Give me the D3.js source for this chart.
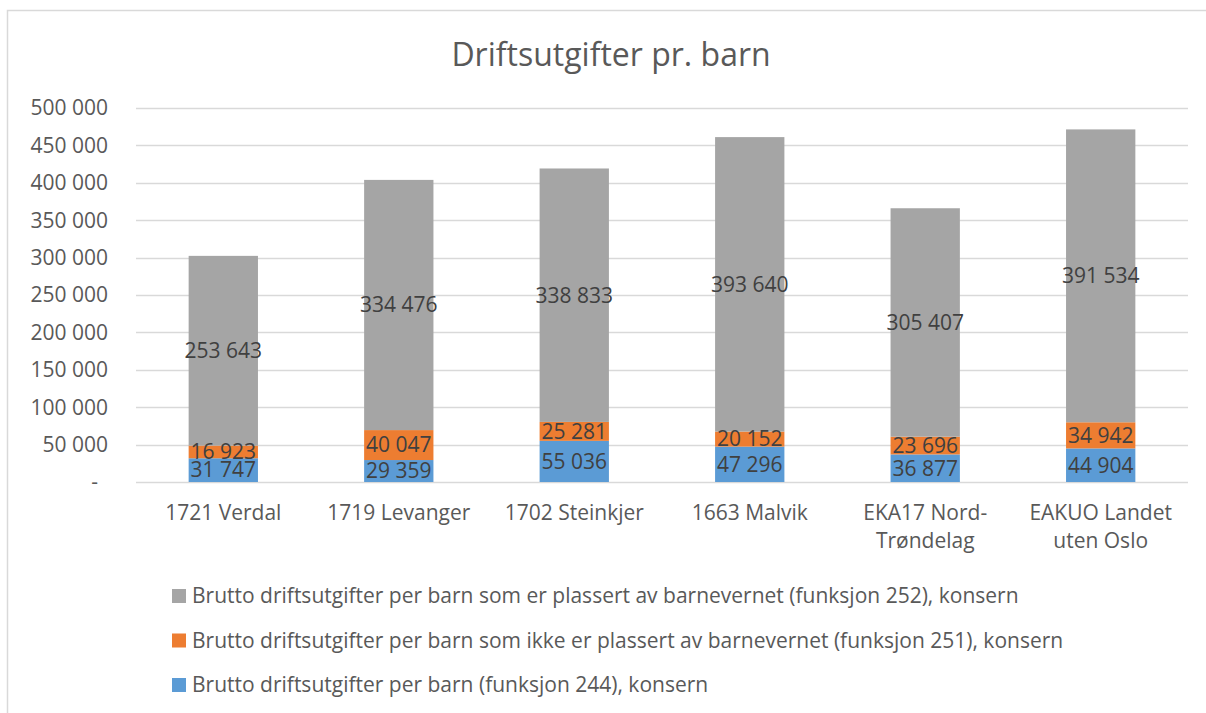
<html>
<head>
    <meta charset="utf-8">
    <script src="https://cdn.jsdelivr.net/npm/d3@7"></script>
    <style>
        body { margin: 0; background: white; font-family: "Open Sans", sans-serif; }
        svg { display: block; }
    </style>
</head>
<body>
<svg id="chart"></svg>
<script>
    // chart values
    const categories = ["1721 Verdal", "1719 Levanger", "1702 Steinkjer", "1663 Malvik", "EKA17 Nord-\nTrøndelag", "EAKUO Landet\nuten Oslo"];
    const seriesNames = [
        "Brutto driftsutgifter per barn (funksjon 244), konsern",
        "Brutto driftsutgifter per barn som ikke er plassert av barnevernet (funksjon 251), konsern",
        "Brutto driftsutgifter per barn som er plassert av barnevernet (funksjon 252), konsern"
    ];
    const f244 = [31747, 29359, 55036, 47296, 36877, 44904];
    const f251 = [16923, 40047, 25281, 20152, 23696, 34942];
    const f252 = [253643, 334476, 338833, 393640, 305407, 391534];
    const yTicks = [0, 50000, 100000, 150000, 200000, 250000, 300000, 350000, 400000, 450000, 500000];
    const colors = ["#5B9BD5", "#ED7D31", "#A5A5A5"];

    const width = 1206, height = 713;
    const margin = {left: 136, right: 18, top: 108, bottom: 231};
    const svg = d3.select("#chart").attr("width", width).attr("height", height);

    // outer chart border (continues past the picture edge)
    svg.append("rect")
        .attr("x", 7.5).attr("y", 10.5)
        .attr("width", 1220).attr("height", 720)
        .attr("fill", "white").attr("stroke", "#d9d9d9").attr("stroke-width", 1.5);

    svg.append("text")
        .attr("x", 611).attr("y", 66)
        .attr("text-anchor", "middle")
        .attr("font-size", 32)
        .attr("fill", "#595959")
        .text("Driftsutgifter pr. barn");

    let x = d3.scaleBand()
        .domain(categories)
        .range([margin.left, width - margin.right])
        .paddingInner(0.605).paddingOuter(0.3);
    let y = d3.scaleLinear()
        .domain([0, 500000])
        .range([height - margin.bottom, margin.top]);

    let fmt = v => v === 0 ? "-" : d3.format(",")(v).replace(/,/g, " ");

    // gridlines
    svg.append("g").selectAll("line").data(yTicks).enter().append("line")
        .attr("x1", margin.left).attr("x2", width - margin.right)
        .attr("y1", d => Math.round(y(d)) + 0.5).attr("y2", d => Math.round(y(d)) + 0.5)
        .attr("stroke", "#d9d9d9").attr("stroke-width", 1.5);

    // y labels
    svg.append("g").selectAll("text").data(yTicks).enter().append("text")
        .attr("x", d => d === 0 ? 98 : 108)
        .attr("y", d => y(d))
        .attr("dy", "0.35em")
        .attr("text-anchor", "end")
        .attr("font-size", 21)
        .attr("fill", "#595959")
        .text(fmt);

    // stack
    let rows = categories.map((c, i) => ({cat: c, s0: f244[i], s1: f251[i], s2: f252[i]}));
    let stacked = d3.stack().keys(["s0", "s1", "s2"])(rows);

    let layers = svg.append("g").selectAll("g").data(stacked).enter().append("g")
        .attr("fill", (d, i) => colors[i]);
    layers.selectAll("rect").data(d => d).enter().append("rect")
        .attr("x", d => x(d.data.cat))
        .attr("width", x.bandwidth())
        .attr("y", d => y(d[1]))
        .attr("height", d => y(d[0]) - y(d[1]));

    // data labels
    let labels = svg.append("g");
    stacked.forEach(layer => {
        layer.forEach(d => {
            labels.append("text")
                .attr("x", x(d.data.cat) + x.bandwidth() / 2)
                .attr("y", (y(d[0]) + y(d[1])) / 2)
                .attr("dy", "0.35em")
                .attr("text-anchor", "middle")
                .attr("font-size", 21)
                .attr("fill", "#404040")
                .text(fmt(d[1] - d[0]));
        });
    });

    // category labels
    let cats = svg.append("g").selectAll("text").data(categories).enter().append("text")
        .attr("x", d => x(d) + x.bandwidth() / 2)
        .attr("y", 520)
        .attr("text-anchor", "middle")
        .attr("font-size", 21)
        .attr("fill", "#595959");
    cats.each(function(d) {
        d.split("\n").forEach((line, i) => {
            d3.select(this).append("tspan")
                .attr("x", x(d) + x.bandwidth() / 2)
                .attr("dy", i === 0 ? 0 : 28)
                .text(line);
        });
    });

    // legend (reverse order)
    let legendOrder = [2, 1, 0];
    let legend = svg.append("g").selectAll("g").data(legendOrder).enter().append("g")
        .attr("transform", (d, i) => "translate(172," + (596 + i * 44.5) + ")");
    legend.append("rect")
        .attr("x", 0).attr("y", -7)
        .attr("width", 14).attr("height", 14)
        .attr("fill", d => colors[d]);
    legend.append("text")
        .attr("x", 20).attr("y", 0)
        .attr("dy", "0.35em")
        .attr("font-size", 21)
        .attr("fill", "#595959")
        .text(d => seriesNames[d]);
</script>
</body>
</html>
